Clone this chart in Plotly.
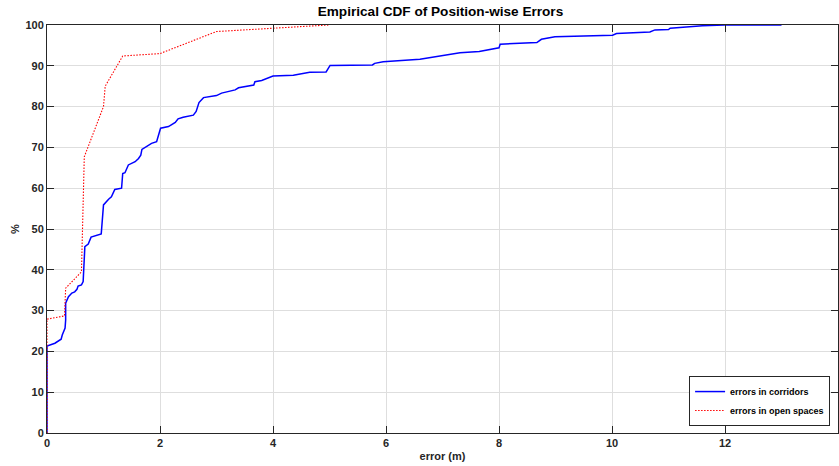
import plotly.graph_objects as go

# Blue: errors in corridors (x in m, y in %)
corr_x = [0, 0, 0.14, 0.25, 0.27, 0.32, 0.33, 0.33, 0.38, 0.44, 0.49, 0.53, 0.55, 0.61, 0.64, 0.65, 0.67,
          0.73, 0.78, 0.96, 1.0, 1.09, 1.14, 1.2, 1.32, 1.34, 1.38, 1.44, 1.56, 1.62, 1.66, 1.68, 1.76, 1.85,
          1.94, 2.01, 2.15, 2.21, 2.27, 2.32, 2.41, 2.59, 2.64, 2.69, 2.77, 3.0, 3.09, 3.33, 3.39, 3.66, 3.68,
          3.8, 4.0, 4.36, 4.65, 4.94, 5.01, 5.76, 5.8, 5.95, 6.6, 7.31, 7.65, 8.0, 8.02, 8.67, 8.75, 8.99,
          9.67, 10.01, 10.08, 10.67, 10.76, 11.0, 11.03, 11.6, 11.99, 13.0]
corr_y = [0, 21.3, 22.0, 23.0, 24.0, 25.7, 27.7, 31.8, 33.4, 34.3, 34.6, 35.2, 36.0, 36.3, 37.1, 39.5, 45.7,
          46.3, 48.0, 48.8, 55.9, 57.3, 57.9, 59.7, 60.0, 63.6, 63.8, 65.7, 66.5, 67.3, 68.1, 69.5, 70.2, 71.0,
          71.4, 74.7, 75.1, 75.7, 76.1, 77.0, 77.4, 77.9, 78.8, 81.0, 82.2, 82.7, 83.3, 84.1, 84.6, 85.3, 86.1,
          86.4, 87.5, 87.7, 88.4, 88.5, 90.1, 90.2, 90.6, 91.0, 91.6, 93.2, 93.5, 94.4, 95.3, 95.7, 96.5, 97.1,
          97.3, 97.5, 97.9, 98.3, 98.8, 98.9, 99.2, 99.8, 100.0, 100.0]

# Red: errors in open spaces
open_x = [0, 0, 0.31, 0.33, 0.61, 0.66, 1.0, 1.03, 1.34, 2.0, 3.0, 4.0, 4.98]
open_y = [0, 27.9, 28.7, 35.5, 39.5, 67.7, 80.0, 85.0, 92.4, 93.0, 98.4, 99.2, 100.0]

x_ticks = [0, 2, 4, 6, 8, 10, 12, 14]
y_ticks = [0, 10, 20, 30, 40, 50, 60, 70, 80, 90, 100]

AX = "#262626"
FONT = "Liberation Sans, Arial, sans-serif"

fig = go.Figure()
fig.add_trace(go.Scatter(x=corr_x, y=corr_y, mode="lines", name="errors in corridors",
                         line=dict(color="#0000ff", width=1.5)))
fig.add_trace(go.Scatter(x=open_x, y=open_y, mode="lines", name="errors in open spaces",
                         line=dict(color="#ff0000", width=1.1, dash="1.5px,1.5px")))

axis_common = dict(showline=True, linecolor=AX, linewidth=1, mirror="allticks",
                   ticks="inside", ticklen=7, tickcolor=AX, tickwidth=1,
                   showgrid=True, gridcolor="#dedede", gridwidth=1, zeroline=False,
                   tickfont=dict(family=FONT, size=11, color=AX, weight="bold"))

fig.update_layout(
    width=839, height=466,
    margin=dict(l=47, r=1, t=25, b=33),
    paper_bgcolor="white", plot_bgcolor="white",
    title=dict(text="Empirical CDF of Position-wise Errors", x=0.525, xanchor="center",
               y=0.975, yanchor="middle",
               font=dict(family=FONT, size=13.6, color="black", weight="bold")),
    xaxis=dict(range=[0, 14], tickvals=x_ticks, **axis_common,
               title=dict(text="error (m)", standoff=4,
                          font=dict(family=FONT, size=11, color=AX, weight="bold"))),
    yaxis=dict(range=[0, 100], tickvals=y_ticks, **axis_common,
               title=dict(text="%", standoff=3,
                          font=dict(family=FONT, size=11, color=AX, weight="bold"))),
    legend=dict(x=0.99, y=0.017, xanchor="right", yanchor="bottom",
                bgcolor="white", bordercolor=AX, borderwidth=1,
                font=dict(family=FONT, size=9, color="black", weight="bold"),
                tracegroupgap=0, itemwidth=30),
    showlegend=True,
)

fig.write_html("out.html")
